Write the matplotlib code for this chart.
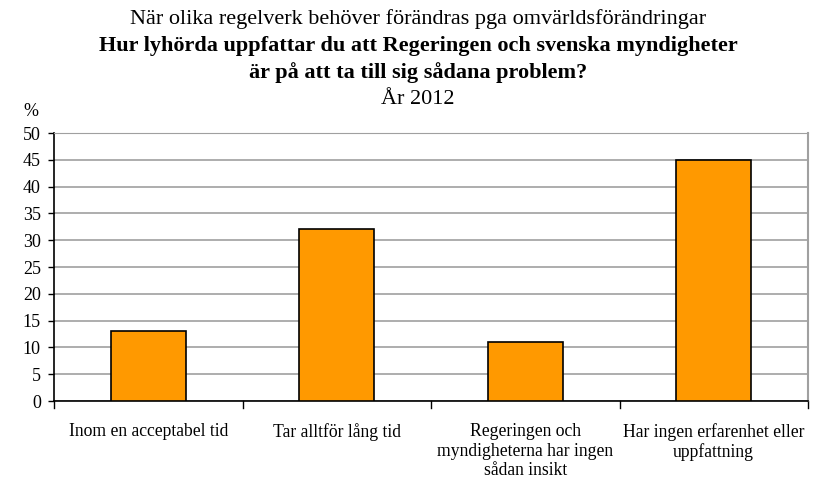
import matplotlib.pyplot as plt

categories = ['Inom en acceptabel tid', 'Tar alltför lång tid',
              'Regeringen och\nmyndigheterna har ingen\nsådan insikt',
              'Har ingen erfarenhet eller\nuppfattning']
values = [13, 32, 11, 45]
yticks = [0, 5, 10, 15, 20, 25, 30, 35, 40, 45, 50]

plt.rcParams['font.family'] = ['Liberation Serif', 'DejaVu Serif']

fig = plt.figure(figsize=(8.36, 4.88), dpi=100)
ax = fig.add_axes([54 / 836, 1 - 401 / 488, (808 - 54) / 836, (401 - 133) / 488])

x = list(range(len(categories)))
ax.bar(x, values, width=0.4, color='#ff9900', edgecolor='black', linewidth=1.2, zorder=3)

ax.set_xlim(-0.5, len(categories) - 0.5)
ax.set_ylim(0, 50)
ax.set_yticks(yticks)
ax.tick_params(axis='y', labelsize=13, length=4.5, width=1, direction='out', pad=5)
ax.yaxis.grid(True, color='#a0a0a0', linewidth=1.2, zorder=0)

# category labels centred, separator ticks between categories
ax.set_xticks(x)
ax.set_xticklabels(categories, fontsize=12.7, linespacing=1.18)
ax.tick_params(axis='x', length=0, pad=16)
for i in range(len(categories) + 1):
    ax.plot([i - 0.5, i - 0.5], [0, -0.025], transform=ax.get_xaxis_transform(),
            color='black', linewidth=1, clip_on=False)

ax.spines['left'].set_color('black')
ax.spines['bottom'].set_color('black')
ax.spines['left'].set_linewidth(1.2)
ax.spines['bottom'].set_linewidth(1.2)
ax.spines['top'].set_color('#a0a0a0')
ax.spines['right'].set_color('#a0a0a0')
ax.spines['right'].set_linewidth(1.5)

fig.text(31 / 836, 1 - 112 / 488, '%', fontsize=13, ha='center', va='center')

fig.text(0.5, 1 - 19 / 488, 'När olika regelverk behöver förändras pga omvärldsförändringar',
         fontsize=16, ha='center', va='center')
fig.text(0.5, 1 - 46 / 488, 'Hur lyhörda uppfattar du att Regeringen och svenska myndigheter',
         fontsize=16, fontweight='bold', ha='center', va='center')
fig.text(0.5, 1 - 73 / 488, 'är på att ta till sig sådana problem?',
         fontsize=16, fontweight='bold', ha='center', va='center')
fig.text(0.5, 1 - 100 / 488, 'År 2012', fontsize=16, ha='center', va='center')

fig.savefig('out.png', dpi=100)
